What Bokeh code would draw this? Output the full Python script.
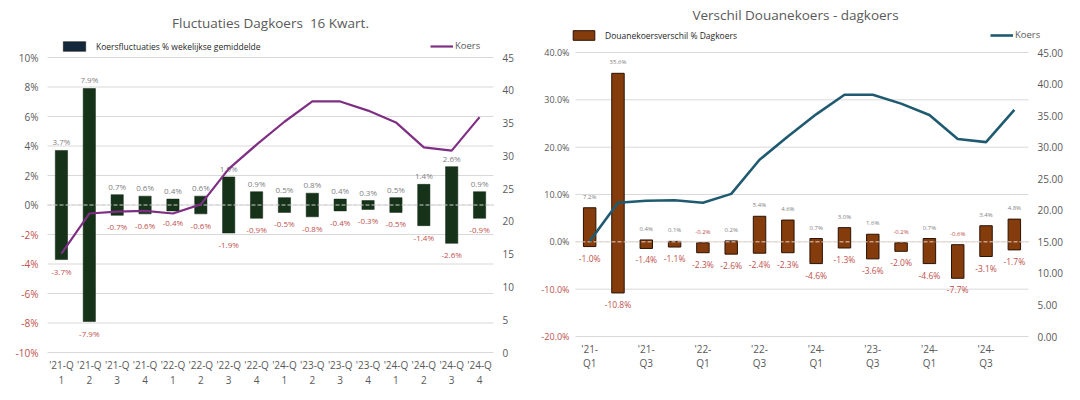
from bokeh.plotting import figure
from bokeh.models import (FactorRange, Range1d, ColumnDataSource, Legend, LegendItem, Label)
from bokeh.core.properties import value
from bokeh.layouts import row
from bokeh.embed import file_html
from bokeh.resources import INLINE

# ---------------- data ----------------
quarters = ["21Q1", "21Q2", "21Q3", "21Q4", "22Q1", "22Q2", "22Q3", "22Q4",
            "23Q1", "23Q2", "23Q3", "23Q4", "24Q1", "24Q2", "24Q3", "24Q4"]
left_tick_labels = ["'21-Q\n1", "'21-Q\n2", "'21-Q\n3", "'21-Q\n4",
                    "'22-Q\n1", "'22-Q\n2", "'22-Q\n3", "'22-Q\n4",
                    "'24-Q\n1", "'23-Q\n2", "'23-Q\n3", "'23-Q\n4",
                    "'24-Q\n1", "'24-Q\n2", "'24-Q\n3", "'24-Q\n4"]
right_tick_labels = ["'21-\nQ1", "", "'21-\nQ3", "", "'22-\nQ1", "", "'22-\nQ3", "",
                     "'24-\nQ1", "", "'23-\nQ3", "", "'24-\nQ1", "", "'24-\nQ3", ""]
fluct_pct = [3.7, 7.9, 0.7, 0.6, 0.4, 0.6, 1.9, 0.9, 0.5, 0.8, 0.4, 0.3, 0.5, 1.4, 2.6, 0.9]
koers = [15.1, 21.2, 21.5, 21.6, 21.2, 22.6, 28.0, 31.7, 35.2, 38.3, 38.3, 36.9, 35.1, 31.3, 30.8, 35.9]
douane_high = [7.2, 35.6, 0.4, 0.1, -0.2, 0.2, 5.4, 4.6, 0.7, 3.0, 1.6, -0.2, 0.7, -0.6, 3.4, 4.8]
douane_low = [-1.0, -10.8, -1.4, -1.1, -2.3, -2.6, -2.4, -2.3, -4.6, -1.3, -3.6, -2.0, -4.6, -7.7, -3.1, -1.7]
left_pct_ticks = [-10, -8, -6, -4, -2, 0, 2, 4, 6, 8, 10]
right_pct_ticks = [-20, -10, 0, 10, 20, 30, 40]
koers_ticks = [0, 5, 10, 15, 20, 25, 30, 35, 40, 45]

FONT = "Open Sans"
GRAY = "#595959"
RED = "#C0504D"
GRID = "#D9D9D9"
H = 400
N = len(quarters)


def y_range_for(lo, hi, px_hi, px_lo):
    """Range so that value hi sits at pixel row px_hi and lo at px_lo of a full-height frame."""
    upp = (hi - lo) / (px_lo - px_hi)
    return Range1d(lo - (H - px_lo) * upp, hi + px_hi * upp)


def make_chart(width, x0, x1, yr, px_top, px_bot, pct_ticks, pct_fmt, koers_fmt,
               tick_labels, lab_size, lab_gap, xl_off):
    step = (x1 - x0) / N
    pad = x0 / step
    p = figure(width=width, height=H,
               x_range=FactorRange(*quarters, range_padding=pad, range_padding_units="absolute"),
               y_range=y_range_for(yr[0], yr[1], px_top, px_bot),
               output_backend="svg", toolbar_location=None,
               x_axis_location=None, y_axis_location=None,
               min_border_left=0, min_border_right=0, min_border_top=0, min_border_bottom=0,
               outline_line_color=None)
    p.grid.visible = False
    p.extra_y_ranges = {"k": y_range_for(koers_ticks[0], koers_ticks[-1], px_top, px_bot)}
    # horizontal grid lines over the plot area
    p.segment(x0=[0] * len(pct_ticks), x1=[N] * len(pct_ticks), y0=pct_ticks, y1=pct_ticks,
              line_color=GRID, line_width=1)
    # left percentage tick labels (negative ones red)
    p.text(x=[-lab_gap / step] * len(pct_ticks), y=pct_ticks,
           text=[pct_fmt.format(t) for t in pct_ticks],
           text_color=[RED if t < 0 else GRAY for t in pct_ticks],
           text_align="right", text_baseline="middle", text_font=value(FONT),
           text_font_size=lab_size)
    # right Koers tick labels
    p.text(x=[N + 9 / step] * len(koers_ticks), y=koers_ticks, y_range_name="k",
           text=[format(t, koers_fmt) for t in koers_ticks], text_color=GRAY,
           text_align="left", text_baseline="middle", text_font=value(FONT),
           text_font_size="10px")
    # category labels (two lines)
    line1 = [t.split("\n")[0] for t in tick_labels]
    line2 = [t.split("\n")[1] if "\n" in t else "" for t in tick_labels]
    for txt, off in ((line1, xl_off[0]), (line2, xl_off[1])):
        p.text(x=quarters, y=[yr[0]] * N, text=txt, y_offset=off, text_color=GRAY,
               text_align="center", text_baseline="middle", text_font=value(FONT),
               text_font_size="10px")
    return p


def legend(item, loc, gw, size, color, standoff):
    return Legend(items=[item], location=loc, orientation="horizontal",
                  padding=0, margin=0, border_line_color=None, background_fill_alpha=0,
                  glyph_width=gw, glyph_height=12, label_height=12,
                  label_text_font_size=size, label_text_color=color,
                  label_standoff=standoff, label_text_font=FONT)


# ---------------- left chart ----------------
p1 = make_chart(540, 47, 493, (-10, 10), 57, 352, left_pct_ticks, "{:d}%", "d",
                left_tick_labels, "10px", 9, (12, 27))
src1 = ColumnDataSource(dict(
    q=quarters, top=fluct_pct, bottom=[-v for v in fluct_pct], koers=koers,
    top_lbl=[f"{v:.1f}%" for v in fluct_pct],
    bot_lbl=[f"{-v:.1f}%" for v in fluct_pct]))
# legend swatch renderer (zero-height, hidden under the first bar)
swatch1 = p1.vbar(x=quarters[:1], top=[0], bottom=[0], width=0.3,
                  fill_color="#13283A", line_color="#0A0A0A", line_width=0.5)
p1.vbar(x="q", top="top", bottom="bottom", width=0.44, source=src1,
        fill_color="#16331A", line_color="#0E220F", line_width=0.5)
p1.segment(x0=[0], x1=[N], y0=[0], y1=[0], line_color="#CFCFCF", line_dash="4 2", line_width=1)
p1.text(x="q", y="top", text="top_lbl", source=src1, text_align="center",
        text_baseline="bottom", y_offset=-3, text_font_size="8px", text_color="#7F7F7F",
        text_font=value(FONT))
p1.text(x="q", y="bottom", text="bot_lbl", source=src1, text_align="center",
        text_baseline="top", y_offset=6, text_font_size="8px", text_color=RED,
        text_font=value(FONT))
l1 = p1.line(x="q", y="koers", source=src1, y_range_name="k", line_color="#7E2F83", line_width=2.2)
p1.add_layout(Label(x=270, y=H - 22, x_units="screen", y_units="screen",
                    text="Fluctuaties Dagkoers \u00a016 Kwart.", text_align="center",
                    text_baseline="middle", text_font=FONT, text_font_size="13.5px",
                    text_color=GRAY))
p1.add_layout(legend(LegendItem(label="Koersfluctuaties % wekelijkse gemiddelde", renderers=[swatch1]),
                     (60, H - 52), 28, "8.5px", "#262626", 8))
p1.add_layout(legend(LegendItem(label="Koers", renderers=[l1]),
                     (430, H - 52), 23, "9.5px", GRAY, 2))

# ---------------- right chart ----------------
p2 = make_chart(523, 35, 488, (-20, 40), 52, 336, right_pct_ticks, "{:.1f}%", ".2f",
                right_tick_labels, "9px", 6, (12, 26))
src2 = ColumnDataSource(dict(
    q=quarters, top=douane_high, bottom=douane_low, koers=koers,
    top_lbl=[f"{v:.1f}%" for v in douane_high],
    top_col=[RED if v < 0 else "#7F7F7F" for v in douane_high],
    bot_lbl=[f"{v:.1f}%" for v in douane_low]))
b2 = p2.vbar(x="q", top="top", bottom="bottom", width=0.44, source=src2,
             fill_color="#843C0C", line_color="#2B1204", line_width=1)
p2.segment(x0=[0], x1=[N], y0=[0], y1=[0], line_color="#E6D2C8", line_dash="4 2", line_width=1)
p2.text(x="q", y="top", text="top_lbl", source=src2, text_align="center",
        text_baseline="bottom", y_offset=-7, text_font_size="6px", text_color="top_col",
        text_font=value(FONT))
p2.text(x="q", y="bottom", text="bot_lbl", source=src2, text_align="center",
        text_baseline="top", y_offset=6, text_font_size="8.5px", text_color=RED,
        text_font=value(FONT))
l2 = p2.line(x="q", y="koers", source=src2, y_range_name="k", line_color="#1F5A70", line_width=2.6)
p2.add_layout(Label(x=255, y=H - 14, x_units="screen", y_units="screen",
                    text="Verschil Douanekoers - dagkoers", text_align="center",
                    text_baseline="middle", text_font=FONT, text_font_size="13.5px",
                    text_color=GRAY))
p2.add_layout(legend(LegendItem(label="Douanekoersverschil % Dagkoers", renderers=[b2]),
                     (30, H - 41), 27, "8.5px", "#262626", 8))
p2.add_layout(legend(LegendItem(label="Koers", renderers=[l2]),
                     (450, H - 41), 23, "9.5px", GRAY, 2))

layout = row(p1, p2)
open("out.html", "w").write(file_html(layout, INLINE))
